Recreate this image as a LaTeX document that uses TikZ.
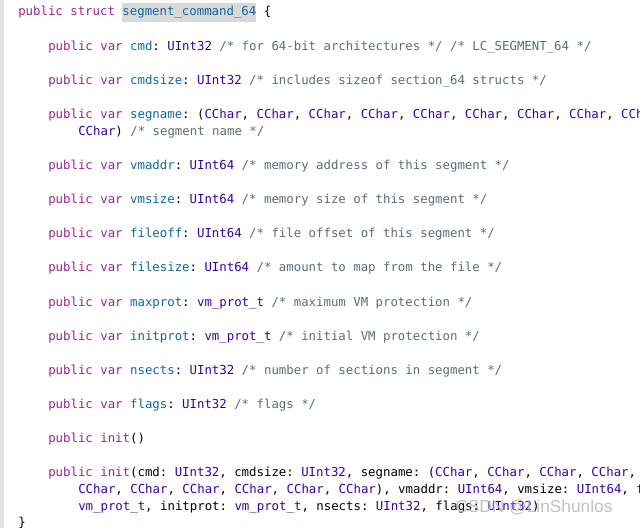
\documentclass[tikz,border=0pt]{standalone}
\usepackage{fontspec}
\newfontfamily\cf{DejaVu Sans Mono}
\newfontfamily\wm{Liberation Sans}
\definecolor{kwc}{HTML}{9B2393}
\definecolor{idc}{HTML}{0F68A0}
\definecolor{tyc}{HTML}{3900A0}
\definecolor{cmc}{HTML}{5D6C79}
\newcommand{\kwd}[1]{\textcolor{kwc}{#1}}
\newcommand{\idn}[1]{\textcolor{idc}{#1}}
\newcommand{\typ}[1]{\textcolor{tyc}{#1}}
\newcommand{\cmt}[1]{\textcolor{cmc}{#1}}
\frenchspacing
\begin{document}
\begin{tikzpicture}[x=0.75pt,y=-0.75pt,
  code/.style={anchor=base west,inner sep=0pt,font=\cf\fontsize{9.27pt}{11pt}\selectfont\frenchspacing,text=black}]
\useasboundingbox (0,0) rectangle (640,528);
\clip (0,0) rectangle (640,528);
\fill[white] (0,0) rectangle (640,528);
\fill[gray!22] (0,0) rectangle (4,528);
\fill[gray!30] (122,3) rectangle (255.5,22);
\def\cc{\typ{CChar}}
\node[code] (l1) at (18,16) {\kwd{public struct} \idn{segment\_command\_64} \{};
\node[code] (l2) at (48,51) {\kwd{public var} \idn{cmd}: \typ{UInt32} \cmt{/* for 64-bit architectures */ /* LC\_SEGMENT\_64 */}};
\node[code] (l3) at (48,85) {\kwd{public var} \idn{cmdsize}: \typ{UInt32} \cmt{/* includes sizeof section\_64 structs */}};
\node[code] (l4) at (48,119) {\kwd{public var} \idn{segname}: (\cc, \cc, \cc, \cc, \cc, \cc, \cc, \cc, \cc, \cc, \cc, \cc, \cc, \cc, \cc,};
\node[code] (l4b) at (78,136) {\cc) \cmt{/* segment name */}};
\node[code] (l5) at (48,170) {\kwd{public var} \idn{vmaddr}: \typ{UInt64} \cmt{/* memory address of this segment */}};
\node[code] (l6) at (48,204) {\kwd{public var} \idn{vmsize}: \typ{UInt64} \cmt{/* memory size of this segment */}};
\node[code] (l7) at (48,238) {\kwd{public var} \idn{fileoff}: \typ{UInt64} \cmt{/* file offset of this segment */}};
\node[code] (l8) at (48,272) {\kwd{public var} \idn{filesize}: \typ{UInt64} \cmt{/* amount to map from the file */}};
\node[code] (l9) at (48,306) {\kwd{public var} \idn{maxprot}: \typ{vm\_prot\_t} \cmt{/* maximum VM protection */}};
\node[code] (l10) at (48,340) {\kwd{public var} \idn{initprot}: \typ{vm\_prot\_t} \cmt{/* initial VM protection */}};
\node[code] (l11) at (48,374) {\kwd{public var} \idn{nsects}: \typ{UInt32} \cmt{/* number of sections in segment */}};
\node[code] (l12) at (48,408) {\kwd{public var} \idn{flags}: \typ{UInt32} \cmt{/* flags */}};
\node[code] (l13) at (48,442) {\kwd{public} \kwd{init}()};
\node[code] (l14) at (48,476) {\kwd{public} \kwd{init}(cmd: \typ{UInt32}, cmdsize: \typ{UInt32}, segname: (\cc, \cc, \cc, \cc, \cc, \cc, \cc, \cc, \cc, \cc,};
\node[code] (l14b) at (78,493) {\cc, \cc, \cc, \cc, \cc, \cc), vmaddr: \typ{UInt64}, vmsize: \typ{UInt64}, fileoff: \typ{UInt64}, filesize: \typ{UInt64}, maxprot:};
\node[code] (l14c) at (78,510) {\typ{vm\_prot\_t}, initprot: \typ{vm\_prot\_t}, nsects: \typ{UInt32}, flags: \typ{UInt32})};
\node[code] (l15) at (18,526) {\}};
\node[anchor=base west,inner sep=0pt,font=\wm\fontsize{13pt}{15pt}\selectfont,text=gray!60,opacity=0.8] (wm) at (455,512) {CSDN @LinShunlos};
\end{tikzpicture}
\end{document}
